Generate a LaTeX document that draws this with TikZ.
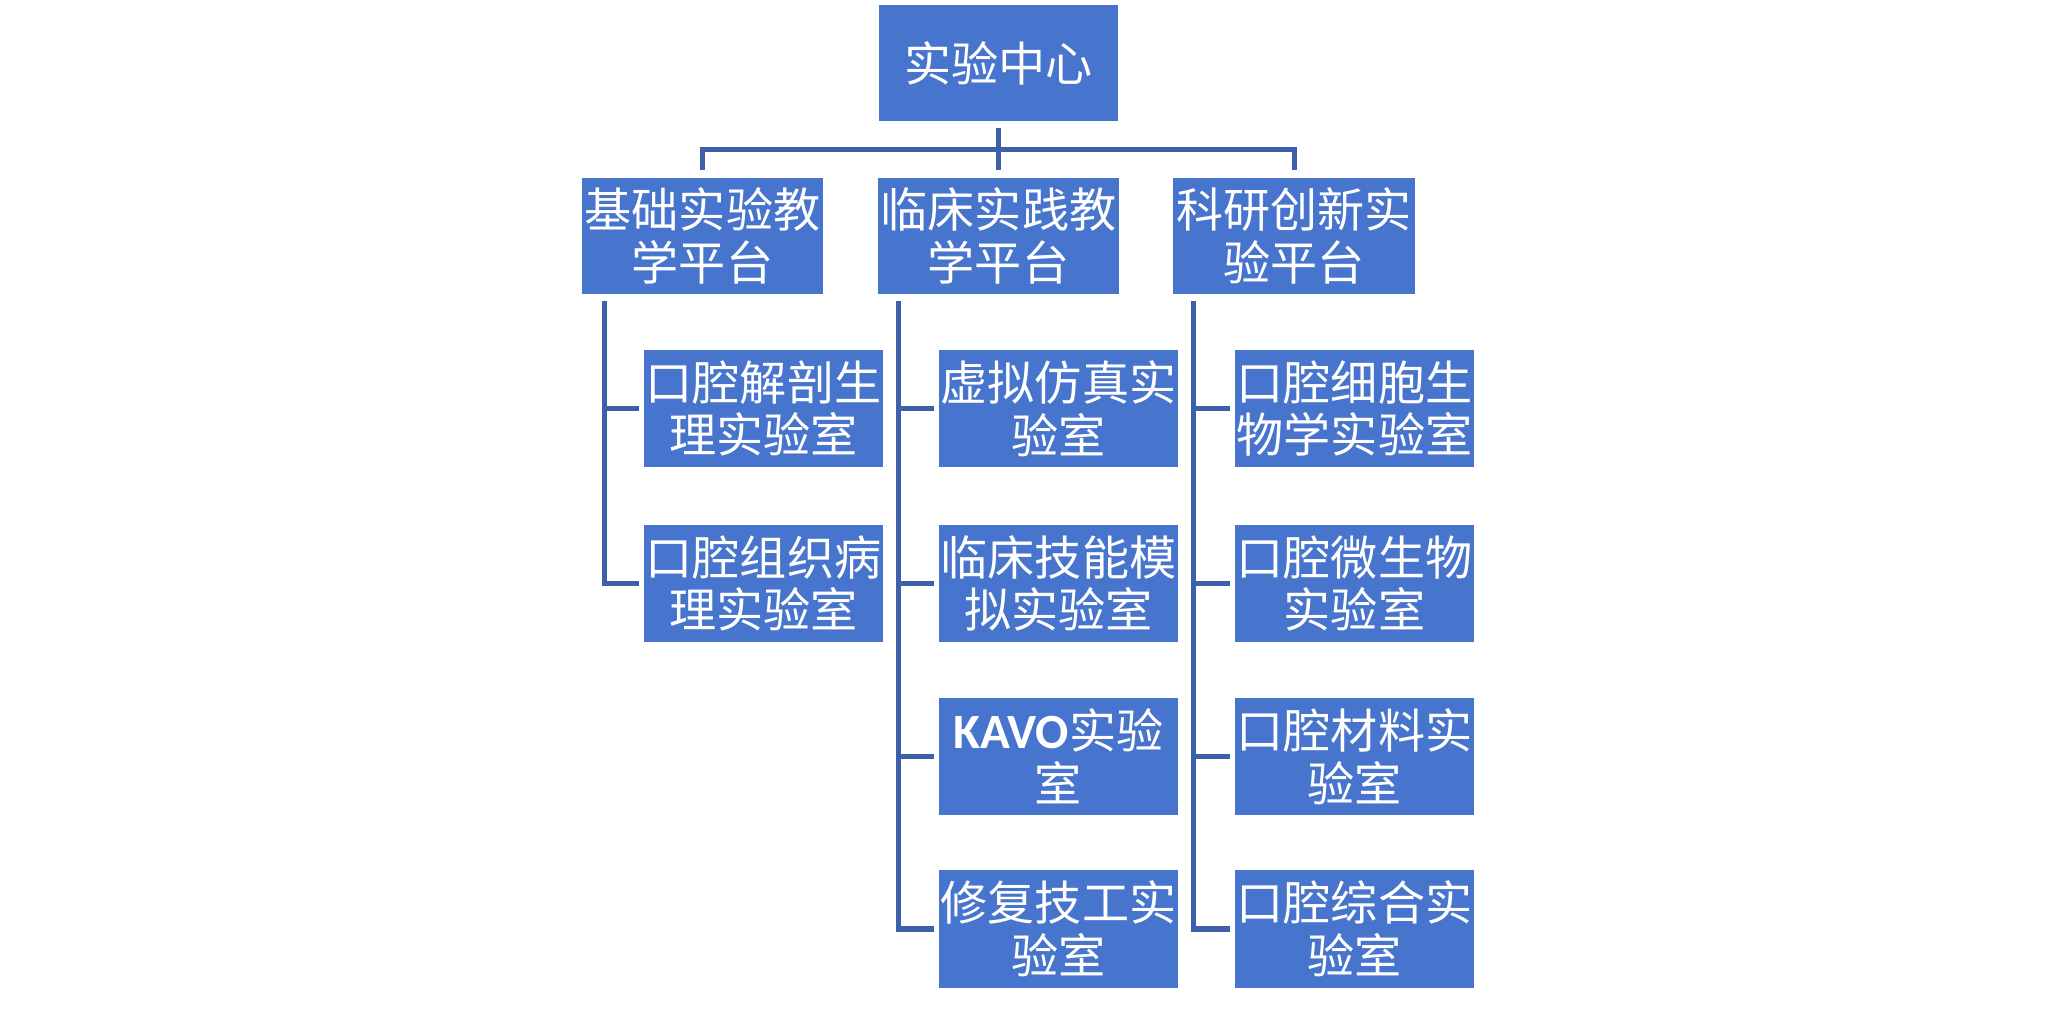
\documentclass[tikz,border=0pt]{standalone}
\usepackage{fontspec}
\newfontfamily\cjk{Noto Sans CJK SC}
\newfontfamily\latb[BoldFont={Carlito Bold}]{Carlito}
\definecolor{boxblue}{RGB}{71,116,204}
\definecolor{lineblue}{RGB}{62,96,170}
\begin{document}
\begin{tikzpicture}[x=0.01cm,y=-0.01cm,
  box/.style={fill=boxblue,draw=none,text=white,inner sep=0pt,align=center,
    font=\cjk\fontsize{13.4pt}{15pt}\selectfont},
  topbox/.style={box,minimum width=2.39cm,minimum height=1.16cm},
  platbox/.style={box,minimum width=2.41cm,minimum height=1.16cm},
  labbox/.style={box,minimum width=2.39cm,minimum height=1.17cm},
  conn/.style={draw=lineblue,line width=0.05cm}]
\useasboundingbox (0,0) rectangle (2057,1013);
\fill[white] (0,0) rectangle (2057,1013);
% top
\node[topbox] (top) at (998.5,63) {实验中心};
% platforms
\node[platbox] (b1) at (702.5,236) {基础实验教\\学平台};
\node[platbox] (b2) at (998.5,236) {临床实践教\\学平台};
\node[platbox] (b3) at (1294,236) {科研创新实\\验平台};
% labs
\node[labbox] (c11) at (763.5,408.5) {口腔解剖生\\理实验室};
\node[labbox] (c12) at (763.5,583.5) {口腔组织病\\理实验室};
\node[labbox] (c21) at (1058.5,408.5) {虚拟仿真实\\验室};
\node[labbox] (c22) at (1058.5,583.5) {临床技能模\\拟实验室};
\node[labbox] (c23) at (1058.5,756.5) {{\latb\bfseries\fontsize{14pt}{15pt}\selectfont KAVO}实验\\室};
\node[labbox] (c24) at (1058.5,929) {修复技工实\\验室};
\node[labbox] (c31) at (1354.5,408.5) {口腔细胞生\\物学实验室};
\node[labbox] (c32) at (1354.5,583.5) {口腔微生物\\实验室};
\node[labbox] (c33) at (1354.5,756.5) {口腔材料实\\验室};
\node[labbox] (c34) at (1354.5,929) {口腔综合实\\验室};
% top connectors
\coordinate (barY) at (0,150);
\draw[conn] ([yshift=-0.06cm]top.south) -- (top.south |- barY);
\draw[conn] ([yshift=0.07cm]b1.north) -- (b1.north |- barY) -- (b3.north |- barY) -- ([yshift=0.07cm]b3.north);
\draw[conn] ([yshift=0.07cm]b2.north) -- (b2.north |- barY);
% trunks
\coordinate (t1) at ([xshift=0.23cm,yshift=-0.06cm]b1.south west);
\coordinate (t2) at ([xshift=0.21cm,yshift=-0.06cm]b2.south west);
\coordinate (t3) at ([xshift=0.21cm,yshift=-0.06cm]b3.south west);
\draw[conn] (t1) |- ([xshift=-0.04cm]c12.west);
\draw[conn] (t1 |- c11.west) -- ([xshift=-0.04cm]c11.west);
\draw[conn] (t2) |- ([xshift=-0.04cm]c24.west);
\draw[conn] (t2 |- c21.west) -- ([xshift=-0.04cm]c21.west);
\draw[conn] (t2 |- c22.west) -- ([xshift=-0.04cm]c22.west);
\draw[conn] (t2 |- c23.west) -- ([xshift=-0.04cm]c23.west);
\draw[conn] (t3) |- ([xshift=-0.04cm]c34.west);
\draw[conn] (t3 |- c31.west) -- ([xshift=-0.04cm]c31.west);
\draw[conn] (t3 |- c32.west) -- ([xshift=-0.04cm]c32.west);
\draw[conn] (t3 |- c33.west) -- ([xshift=-0.04cm]c33.west);
\end{tikzpicture}
\end{document}
